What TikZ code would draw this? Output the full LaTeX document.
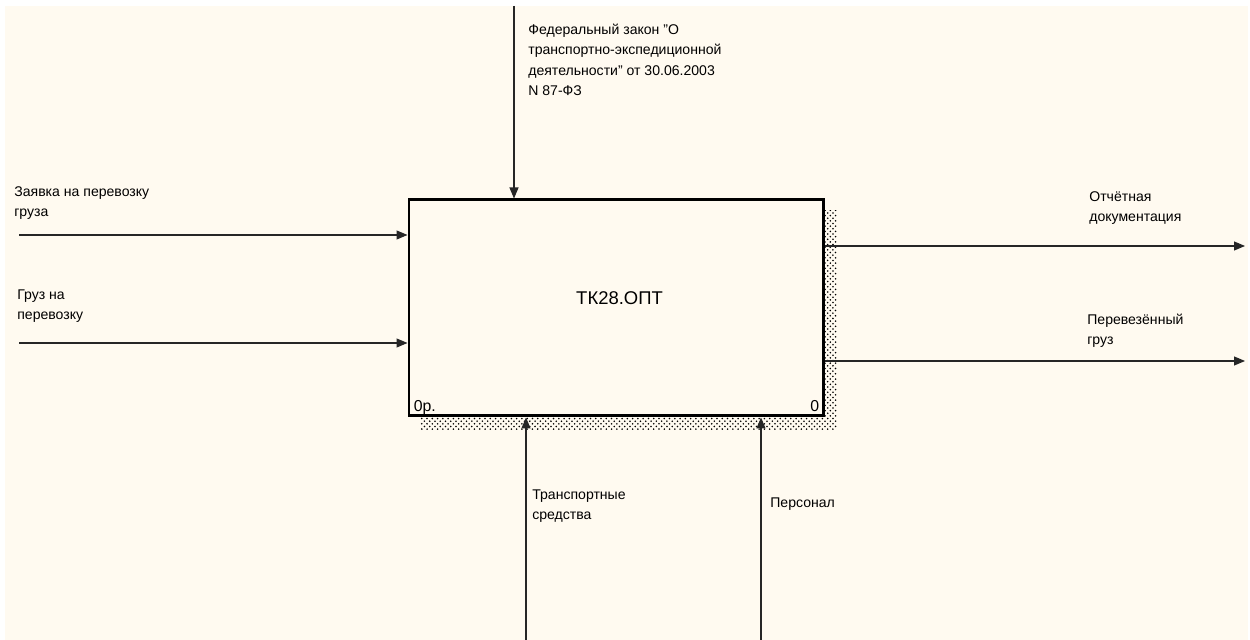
\documentclass[tikz,border=0pt]{standalone}
\usepackage{fontspec}
\setmainfont{Liberation Sans}
\usetikzlibrary{arrows.meta,patterns,calc,positioning,backgrounds}
\definecolor{paper}{RGB}{255,250,240}

\begin{document}
\begin{tikzpicture}[
  >={Triangle[length=2.2mm, width=1.8mm]},
  flow/.style   = {->, line width=0.6pt, black!85},
  lbl/.style    = {font=\fontsize{8}{11.5}\selectfont, align=left, anchor=north west,
                   inner sep=0pt, execute at begin node=\strut},
  func/.style   = {draw, line width=1.7pt, fill=paper, minimum width=8.28cm,
                   minimum height=4.32cm, inner sep=0pt},
  corner/.style = {font=\fontsize{9}{10}\selectfont, inner sep=0pt},
]
\useasboundingbox (0,0) rectangle (25,12.8);

%% ---- sheet ---------------------------------------------------------------
\begin{pgfonlayer}{background}
  \fill[white] (0,0) rectangle (25,12.8);
  \fill[paper] (0.1,0) rectangle (24.96,12.68);
\end{pgfonlayer}

%% ---- function box --------------------------------------------------------
\node[func] (box) at (12.32,6.64) {};
\node[font=\fontsize{10.5}{12}\selectfont] (boxname) at ($(box.center)+(0.07,0.2)$) {ТК28.ОПТ};
\node[corner, anchor=base west] (boxnode) at ($(box.south west)+(0.12,0.12)$) {0р.};
\node[corner, anchor=base east] (boxnum) at ($(box.south east)+(-0.1,0.12)$) {0};
\begin{pgfonlayer}{background}
  \fill[pattern=crosshatch dots, pattern color=black]
    ($(box.south west)+(0.26,-0.24)$) rectangle ($(box.north east)+(0.24,-0.24)$);
\end{pgfonlayer}

%% ---- control -------------------------------------------------------------
\coordinate (ctl) at (10.28,12.68);
\draw[flow] (ctl) -- (ctl |- box.north);
\node[lbl] (lblCtl) at (10.56,12.32)
  {Федеральный закон "О\\транспортно-экспедиционной\\деятельности" от 30.06.2003\\N 87-ФЗ};

%% ---- inputs --------------------------------------------------------------
\coordinate (in1) at (0.38,8.1);
\coordinate (in2) at (0.38,5.94);
\draw[flow] (in1) -- (in1 -| box.west);
\draw[flow] (in2) -- (in2 -| box.west);
\node[lbl] (lblIn1) at (0.28,9.08) {Заявка на перевозку\\груза};
\node[lbl] (lblIn2) at (0.34,7.02) {Груз на\\перевозку};

%% ---- outputs -------------------------------------------------------------
\coordinate (out1) at (24.9,7.88);
\coordinate (out2) at (24.9,5.58);
\draw[flow] (out1 -| box.east) -- (out1);
\draw[flow] (out2 -| box.east) -- (out2);
\node[lbl] (lblOut1) at (21.78,8.98) {Отчётная\\документация};
\node[lbl] (lblOut2) at (21.74,6.52) {Перевезённый\\груз};

%% ---- mechanisms ----------------------------------------------------------
\coordinate (mech1) at (10.52,0);
\coordinate (mech2) at (15.22,0);
\draw[flow] (mech1) -- (mech1 |- box.south);
\draw[flow] (mech2) -- (mech2 |- box.south);
\node[lbl] (lblMech1) at (10.64,3.02) {Транспортные\\средства};
\node[lbl] (lblMech2) at (15.4,2.94) {Персонал};

\end{tikzpicture}
\end{document}
